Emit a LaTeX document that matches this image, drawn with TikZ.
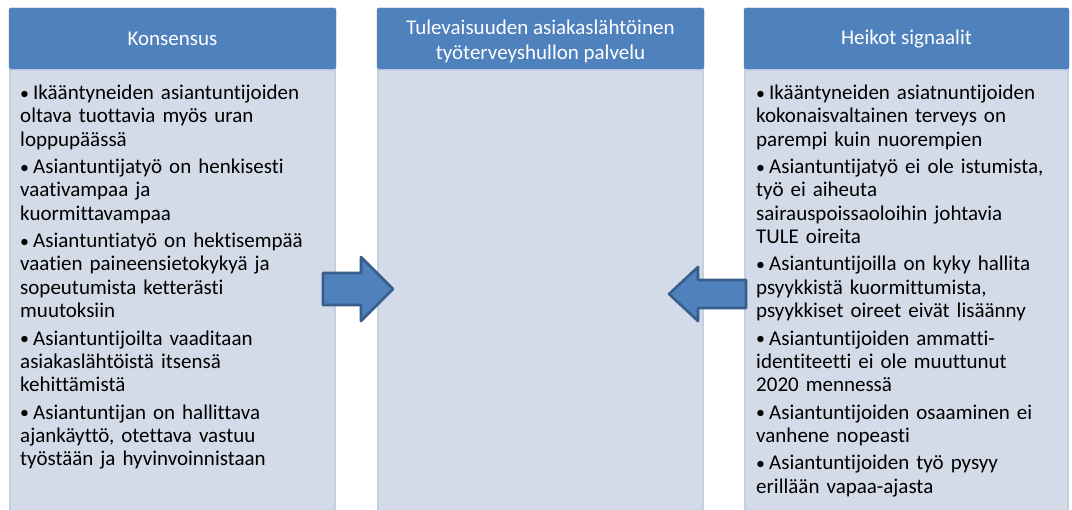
\documentclass[tikz,border=0pt]{standalone}
\usepackage{fontspec}
\setmainfont[Ligatures={NoCommon}]{Carlito}
\definecolor{headblue}{HTML}{4F81BD}
\definecolor{bodyfill}{HTML}{D3DAE8}
\definecolor{bodyline}{HTML}{C5CFE2}
\definecolor{arrowline}{HTML}{385D8A}
\newcommand\bulitem[1]{\par\hangindent=13pt\hangafter=1\noindent\makebox[13pt][l]{\raisebox{0.5pt}{\scalebox{0.85}{\textbullet}}}#1\par}
\begin{document}
\begin{tikzpicture}[x=1pt,y=-1pt,
  headbox/.style={fill=headblue,draw=headblue,rounded corners=2pt},
  bodybox/.style={fill=bodyfill,draw=bodyline,line width=1.5pt},
  headtext/.style={text=white,align=center,font=\fontsize{21}{25}\selectfont},
  listtext/.style={anchor=north west,text width=318pt,inner sep=0pt,align=left,
    font=\fontsize{21}{23.35}\selectfont},
  blockarrow/.style={fill=headblue,draw=arrowline,line width=2.6pt,line join=round}]
\useasboundingbox (0,0) rectangle (1072,510);
% column bodies
\draw[bodybox] (10,70) rectangle (335,520);
\draw[bodybox] (378,70) rectangle (703,520);
\draw[bodybox] (745,70) rectangle (1068,520);
% column headers
\draw[headbox] (9,69) rectangle (336,8);
\draw[headbox] (377,69) rectangle (704,8);
\draw[headbox] (744,69) rectangle (1069,8);
\node[headtext] (hleft) at (172.5,39) {Konsensus};
\node[headtext] (hmid) at (540.5,41.5) {Tulevaisuuden asiakaslähtöinen\\työterveyshullon palvelu};
\node[headtext] (hright) at (906.5,39) {Heikot signaalit};
% left list
\node[listtext] (lleft) at (20,72) {\parskip=4pt
\bulitem{Ikääntyneiden asiantuntijoiden\\oltava tuottavia myös uran\\loppupäässä}
\bulitem{Asiantuntijatyö on henkisesti\\vaativampaa ja\\kuormittavampaa}
\bulitem{Asiantuntiatyö on hektisempää\\vaatien paineensietokykyä ja\\sopeutumista ketterästi\\muutoksiin}
\bulitem{Asiantuntijoilta vaaditaan\\asiakaslähtöistä itsensä\\kehittämistä}
\bulitem{Asiantuntijan on hallittava\\ajankäyttö, otettava vastuu\\työstään ja hyvinvoinnistaan}};
% right list
\node[listtext] (lright) at (756,72) {\parskip=4pt
\bulitem{Ikääntyneiden asiatnuntijoiden\\kokonaisvaltainen terveys on\\parempi kuin nuorempien}
\bulitem{Asiantuntijatyö ei ole istumista,\\työ ei aiheuta\\sairauspoissaoloihin johtavia\\TULE oireita}
\bulitem{Asiantuntijoilla on kyky hallita\\psyykkistä kuormittumista,\\psyykkiset oireet eivät lisäänny}
\bulitem{Asiantuntijoiden ammatti-\\identiteetti ei ole muuttunut\\2020 mennessä}
\bulitem{Asiantuntijoiden osaaminen ei\\vanhene nopeasti}
\bulitem{Asiantuntijoiden työ pysyy\\erillään vapaa-ajasta}};
% block arrows pointing into the middle column
\draw[blockarrow] (323,273) -- (361,273) -- (361,257) -- (393,289) -- (361,321) -- (361,305) -- (323,305) -- cycle;
\draw[blockarrow] (746,280) -- (698,280) -- (698,267) -- (669,294) -- (698,321) -- (698,308) -- (746,308) -- cycle;
\end{tikzpicture}
\end{document}
